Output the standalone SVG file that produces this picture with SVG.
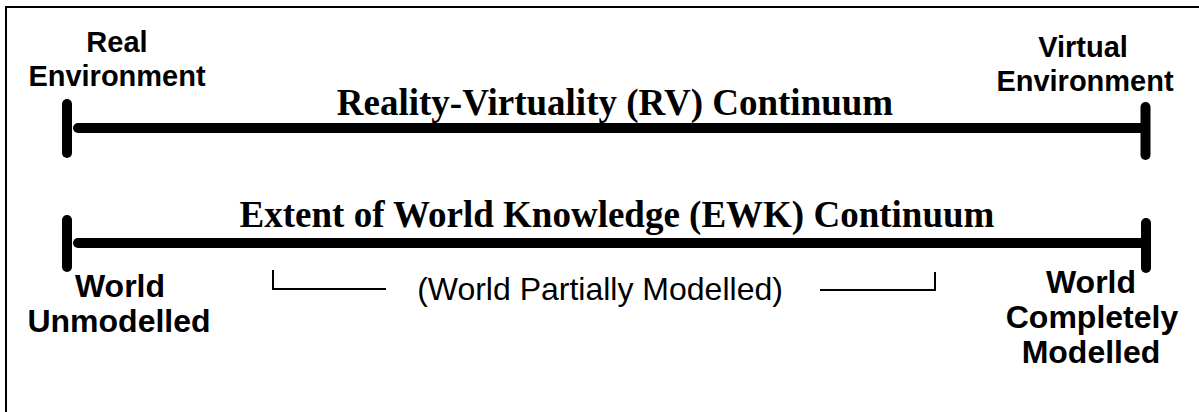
<svg xmlns="http://www.w3.org/2000/svg" width="1199" height="412" viewBox="0 0 1199 412">
<style>
.bar{stroke:#000;stroke-width:10;stroke-linecap:round;fill:none}
.thin{stroke:#000;stroke-width:2;fill:none}
.lbl{font-family:"Liberation Sans",Arial,sans-serif;font-weight:bold;font-size:29px;text-anchor:middle;fill:#000}
.lbl2{font-family:"Liberation Sans",Arial,sans-serif;font-weight:bold;font-size:32px;text-anchor:middle;fill:#000}
.title{font-family:"Liberation Serif","Times New Roman",serif;font-weight:bold;font-size:37px;text-anchor:middle;fill:#000}
.mid{font-family:"Liberation Sans",Arial,sans-serif;font-size:32px;text-anchor:middle;fill:#000}
</style>
<rect width="1199" height="412" fill="#fff"/>
<path class="thin" d="M6,414 V7 H1201"/>
<g id="connectors">
  <g id="rv-line">
    <line class="bar" x1="78" y1="128" x2="1145" y2="128"/>
    <line class="bar" x1="67" y1="104" x2="67" y2="153"/>
    <line class="bar" x1="1145.5" y1="107" x2="1145.5" y2="155"/>
  </g>
  <g id="ewk-line">
    <line class="bar" x1="78" y1="243" x2="1146" y2="243"/>
    <line class="bar" x1="67" y1="220" x2="67" y2="267"/>
    <line class="bar" x1="1146" y1="223" x2="1146" y2="268"/>
  </g>
  <g id="brackets">
    <path class="thin" d="M273,270 V289 H386"/>
    <path class="thin" d="M820,290 H935 V272"/>
  </g>
</g>
<g id="real-env">
  <text class="lbl" x="117" y="52">Real</text>
  <text class="lbl" x="117" y="86">Environment</text>
</g>
<g id="virtual-env">
  <text class="lbl" x="1083" y="57">Virtual</text>
  <text class="lbl" x="1085" y="91">Environment</text>
</g>
<g id="rv-title">
  <text class="title" x="615" y="115">Reality-Virtuality (RV) Continuum</text>
</g>
<g id="ewk-title">
  <text class="title" x="617" y="227">Extent of World Knowledge (EWK) Continuum</text>
</g>
<g id="world-unmodelled">
  <text class="lbl2" x="120" y="297">World</text>
  <text class="lbl2" x="119" y="332">Unmodelled</text>
</g>
<g id="world-partial">
  <text class="mid" x="600" y="300">(World Partially Modelled)</text>
</g>
<g id="world-complete">
  <text class="lbl2" x="1091" y="293">World</text>
  <text class="lbl2" x="1092" y="328">Completely</text>
  <text class="lbl2" x="1091" y="363">Modelled</text>
</g>
</svg>
